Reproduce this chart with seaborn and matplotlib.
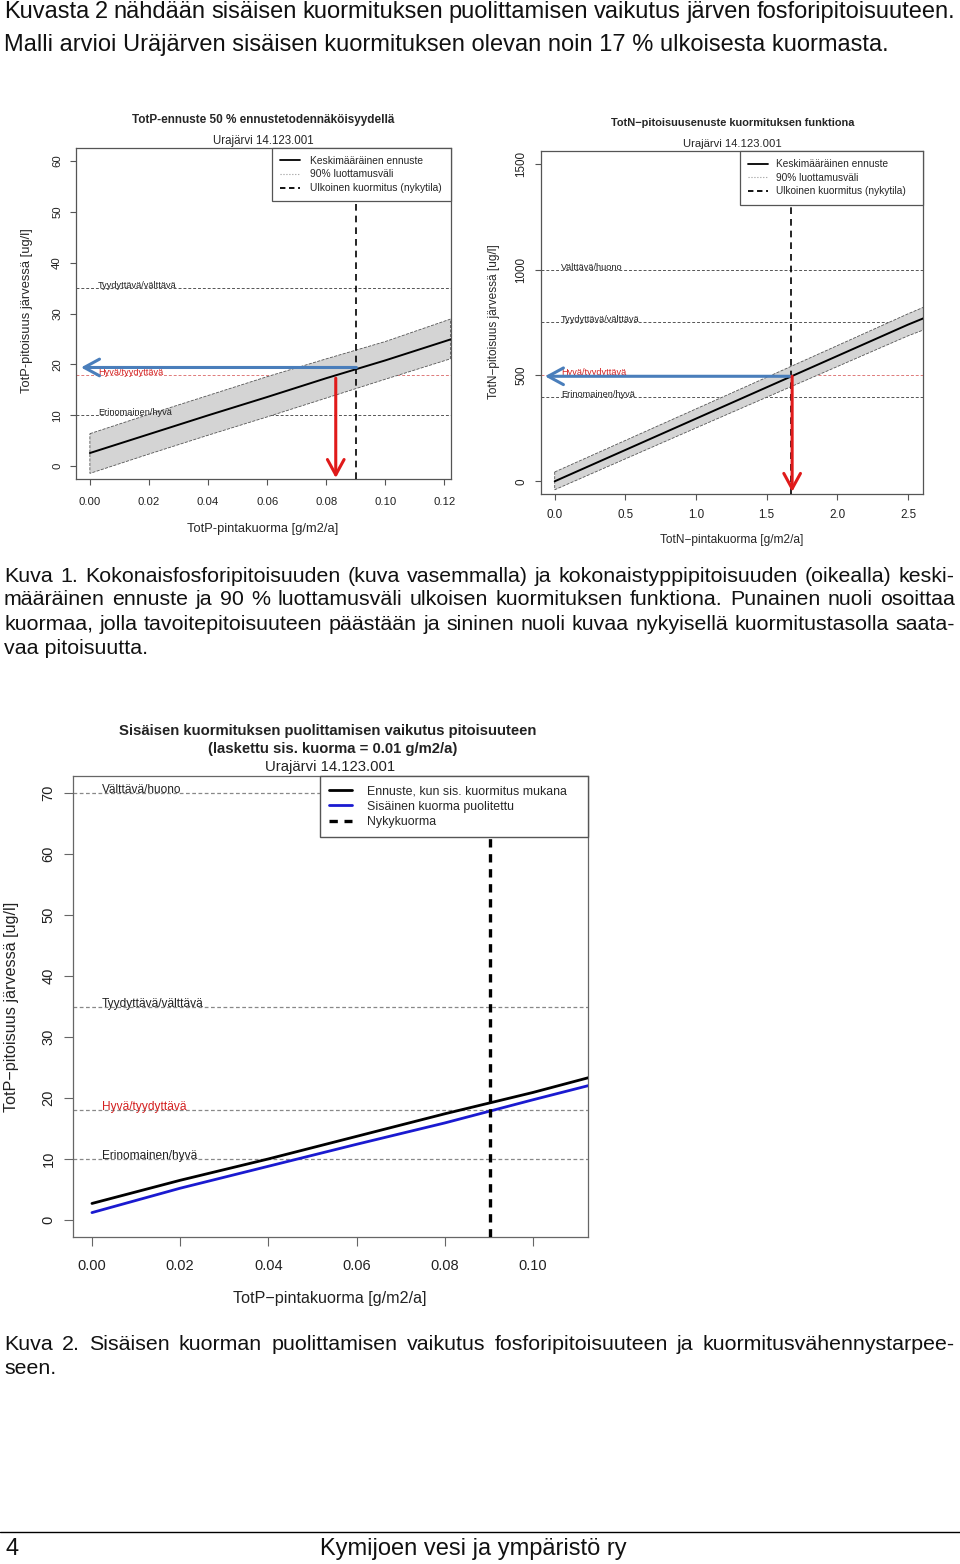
import numpy as np
import matplotlib
matplotlib.use("Agg")
import matplotlib.pyplot as plt
from matplotlib.lines import Line2D
import seaborn as sns

sns.set_theme(style="white")
plt.rcParams["font.family"] = ["Liberation Sans", "DejaVu Sans"]

# ---- values ----
# Kuva 1, left: TotP forecast
totp_load = [0.0, 0.02, 0.04, 0.06, 0.08, 0.10, 0.122]
totp_mean = [2.6, 6.3, 10.0, 13.6, 17.3, 20.8, 24.9]
totp_upper = [6.4, 10.2, 13.9, 17.6, 21.1, 24.5, 28.9]
totp_lower = [-1.4, 2.4, 6.1, 9.7, 13.4, 17.1, 21.1]
totp_now_load = 0.0902
totp_now_conc = 19.4
totp_target_load = 0.0832
totp_target_conc = 17.3

# Kuva 1, right: TotN forecast
totn_load = [0.0, 0.5, 1.0, 1.5, 2.0, 2.5, 2.61]
totn_mean = [0, 148, 296, 444, 592, 740, 770]
totn_upper = [44, 193, 342, 491, 641, 791, 822]
totn_lower = [-40, 106, 252, 397, 542, 687, 715]
totn_now_load = 1.671
totn_now_conc = 496
totn_target_load = 1.68
totn_target_conc = 496

# Kuva 2: internal load halved
half_load = [0.0, 0.02, 0.04, 0.06, 0.08, 0.10, 0.113]
half_with_internal = [2.7, 6.5, 10.0, 13.7, 17.4, 20.9, 23.4]
half_halved = [1.2, 5.2, 8.8, 12.4, 15.9, 19.7, 22.1]
half_now_load = 0.0903

totp_classes = ["Erinomainen/hyvä", "Hyvä/tyydyttävä", "Tyydyttävä/välttävä"]
totp_limits = [10, 18, 35]
totn_classes = ["Erinomainen/hyvä", "Hyvä/tyydyttävä", "Tyydyttävä/välttävä", "Välttävä/huono"]
totn_limits = [400, 500, 750, 1000]
half_classes = ["Erinomainen/hyvä", "Hyvä/tyydyttävä", "Tyydyttävä/välttävä", "Välttävä/huono"]
half_limits = [10, 18, 35, 70]

intro = ["Kuvasta 2 nähdään sisäisen kuormituksen puolittamisen vaikutus järven fosforipitoisuuteen.",
         "Malli arvioi Uräjärven sisäisen kuormituksen olevan noin 17 % ulkoisesta kuormasta."]
caption1 = ["Kuva 1. Kokonaisfosforipitoisuuden (kuva vasemmalla) ja kokonaistyppipitoisuuden (oikealla) keski-",
            "määräinen ennuste ja 90 % luottamusväli ulkoisen kuormituksen funktiona. Punainen nuoli osoittaa",
            "kuormaa, jolla tavoitepitoisuuteen päästään ja sininen nuoli kuvaa nykyisellä kuormitustasolla saata-",
            "vaa pitoisuutta."]
caption2 = ["Kuva 2. Sisäisen kuorman puolittamisen vaikutus fosforipitoisuuteen ja kuormitusvähennystarpee-",
            "seen."]

W, H = 960, 1564
fig = plt.figure(figsize=(W / 100, H / 100), dpi=100)
fig.patch.set_facecolor("white")
renderer = fig.canvas.get_renderer()


def fx(x):
    return x / W


def fy(y):
    return 1 - y / H


def box(x0, y0, x1, y1):
    return fig.add_axes([fx(x0), fy(y1), (x1 - x0) / W, (y1 - y0) / H])


def put_line(text, y, size, justify=False, x0=4, x1=955):
    if not justify:
        fig.text(fx(x0), fy(y), text, fontsize=size, va="center", ha="left", color="#111")
        return
    words = text.split(" ")
    widths = []
    for w in words:
        t = fig.text(0, 0, w, fontsize=size)
        widths.append(t.get_window_extent(renderer).width)
        t.remove()
    gap = (x1 - x0 - sum(widths)) / (len(words) - 1)
    x = x0
    for w, wd in zip(words, widths):
        fig.text(fx(x), fy(y), w, fontsize=size, va="center", ha="left", color="#111")
        x += wd + gap


def r_style(ax, size, tick_len, pad, xpad, spine="#555"):
    for s in ax.spines.values():
        s.set_color(spine)
        s.set_linewidth(0.9)
    ax.tick_params(axis="both", direction="out", length=tick_len, width=0.8, color=spine,
                   labelsize=size, pad=pad, labelcolor="#222", bottom=True, left=True)
    ax.tick_params(axis="x", pad=xpad)
    ax.tick_params(axis="y", labelrotation=90)
    for lab in ax.get_yticklabels():
        lab.set_va("center")
    ax.grid(False)
    ax.set_xlabel("")
    ax.set_ylabel("")


def levels(ax, limits, names, x_text, size, line_col, red_col, lw, dash):
    for v, name in zip(limits, names):
        red = name == "Hyvä/tyydyttävä"
        ax.axhline(v, color=red_col if red else line_col, lw=lw, dashes=dash, zorder=1)
        ax.text(x_text, v, name, fontsize=size, va="baseline", ha="left",
                color="#d42020" if red else "#222", zorder=5)


def arrow(ax, tail, tip, color, lw, scale):
    ax.annotate("", xy=tip, xytext=tail,
                arrowprops=dict(arrowstyle="->,head_length=0.55,head_width=0.3", color=color,
                                lw=lw, shrinkA=0, shrinkB=0, mutation_scale=scale), zorder=6)


band_legend = [Line2D([], [], color="black", lw=1.3),
               Line2D([], [], color="#999", lw=0.8, ls=":"),
               Line2D([], [], color="black", lw=1.3, dashes=(3, 2))]
band_labels = ["Keskimääräinen ennuste", "90% luottamusväli", "Ulkoinen kuormitus (nykytila)"]

# ---------------- page text ----------------
put_line(intro[0], 12, 17.0, justify=True)
put_line(intro[1], 45, 17.0)
for i, line in enumerate(caption1):
    put_line(line, 576 + 24 * i, 15.4, justify=i < 3)
for i, line in enumerate(caption2):
    put_line(line, 1344 + 24 * i, 15.4, justify=i < 1)

fig.add_artist(Line2D([0, 1], [fy(1532), fy(1532)], color="black", lw=1.0))
fig.text(fx(5), fy(1549), "4", fontsize=17, va="center", ha="left", color="#111")
fig.text(fx(473), fy(1549), "Kymijoen vesi ja ympäristö ry", fontsize=17, va="center",
         ha="center", color="#111")

# ---------------- Kuva 1 left: TotP ----------------
ax1 = box(76, 148, 451, 479)
ax1.fill(np.r_[totp_load, totp_load[::-1]], np.r_[totp_upper, totp_lower[::-1]],
         facecolor="#d4d4d4", edgecolor="#555", lw=0.6, ls="--", zorder=2)
levels(ax1, totp_limits, totp_classes, 0.0027, 6.6, "#555", "#e07a7a", 0.7, (3, 2))
sns.lineplot(x=totp_load, y=totp_mean, ax=ax1, color="black", lw=1.4, zorder=3)
ax1.axvline(totp_now_load, color="black", lw=1.2, dashes=(4, 3), zorder=4)
arrow(ax1, (totp_now_load, totp_now_conc), (-0.003, totp_now_conc), "#4a7ebb", 2.2, 20)
arrow(ax1, (totp_target_load, totp_target_conc), (totp_target_load, -2.3), "#e01a1a", 2.2, 20)
ax1.set_xlim(-0.0047, 0.1222)
ax1.set_ylim(-2.5, 62.5)
ax1.set_xticks([0, 0.02, 0.04, 0.06, 0.08, 0.10, 0.12])
ax1.set_xticklabels(["0.00", "0.02", "0.04", "0.06", "0.08", "0.10", "0.12"])
ax1.set_yticks([0, 10, 20, 30, 40, 50, 60])
r_style(ax1, 8.2, 4, 6, 9)
leg = ax1.legend(band_legend, band_labels, loc="upper left", bbox_to_anchor=(0.523, 0, 0.477, 1),
                 mode="expand", borderaxespad=0, fancybox=False, framealpha=1, edgecolor="#555",
                 fontsize=7.4, handlelength=2.0, handletextpad=0.9, borderpad=0.75, labelspacing=0.36)
leg.get_frame().set_linewidth(0.9)
fig.text(fx(263), fy(120), "TotP-ennuste 50 % ennustetodennäköisyydellä", fontsize=8.5,
         fontweight="bold", ha="center", va="center")
fig.text(fx(263), fy(141), "Urajärvi 14.123.001", fontsize=8.3, ha="center", va="center")
fig.text(fx(263), fy(529), "TotP-pintakuorma [g/m2/a]", fontsize=9.3, ha="center", va="center")
fig.text(fx(27), fy(311), "TotP-pitoisuus järvessä [ug/l]", fontsize=9.3, ha="center",
         va="center", rotation=90)

# ---------------- Kuva 1 right: TotN ----------------
ax2 = box(541, 151, 923, 494)
ax2.fill(np.r_[totn_load, totn_load[::-1]], np.r_[totn_upper, totn_lower[::-1]],
         facecolor="#d4d4d4", edgecolor="#555", lw=0.6, ls="--", zorder=2)
levels(ax2, totn_limits, totn_classes, 0.045, 6.6, "#555", "#e07a7a", 0.7, (3, 2))
sns.lineplot(x=totn_load, y=totn_mean, ax=ax2, color="black", lw=1.4, zorder=3)
ax2.axvline(totn_now_load, color="black", lw=1.2, dashes=(4, 3), zorder=4)
arrow(ax2, (totn_now_load, totn_now_conc), (-0.069, totn_now_conc), "#4a7ebb", 2.2, 20)
arrow(ax2, (totn_target_load, totn_target_conc), (totn_target_load, -50), "#e01a1a", 2.2, 20)
ax2.set_xlim(-0.097, 2.606)
ax2.set_ylim(-60, 1560)
ax2.set_xticks([0, 0.5, 1.0, 1.5, 2.0, 2.5])
ax2.set_xticklabels(["0.0", "0.5", "1.0", "1.5", "2.0", "2.5"])
ax2.set_yticks([0, 500, 1000, 1500])
r_style(ax2, 8.4, 4, 6, 6.5)
leg = ax2.legend(band_legend, band_labels, loc="upper left", bbox_to_anchor=(0.52, 0, 0.48, 1),
                 mode="expand", borderaxespad=0, fancybox=False, framealpha=1, edgecolor="#555",
                 fontsize=7.3, handlelength=2.0, handletextpad=0.8, borderpad=0.8, labelspacing=0.36)
leg.get_frame().set_linewidth(0.9)
fig.text(fx(733), fy(123), "TotN−pitoisuusenuste kuormituksen funktiona", fontsize=7.9,
         fontweight="bold", ha="center", va="center")
fig.text(fx(732), fy(144), "Urajärvi 14.123.001", fontsize=8.1, ha="center", va="center")
fig.text(fx(732), fy(540), "TotN−pintakuorma [g/m2/a]", fontsize=8.6, ha="center", va="center")
fig.text(fx(494), fy(322), "TotN−pitoisuus järvessä [ug/l]", fontsize=8.6, ha="center",
         va="center", rotation=90)

# ---------------- Kuva 2 ----------------
ax3 = box(73, 776, 588, 1237)
levels(ax3, half_limits, half_classes, 0.0022, 8.6, "#888", "#888", 0.9, (3, 2))
sns.lineplot(x=half_load, y=half_with_internal, ax=ax3, color="black", lw=2.0, zorder=3,
             label="Ennuste, kun sis. kuormitus mukana")
sns.lineplot(x=half_load, y=half_halved, ax=ax3, color="#1a1ad0", lw=2.0, zorder=3,
             label="Sisäinen kuorma puolitettu")
ax3.axvline(half_now_load, color="black", lw=2.4, dashes=(2.5, 2), zorder=4, label="Nykykuorma")
ax3.set_xlim(-0.0043, 0.1125)
ax3.set_ylim(-2.8, 72.8)
ax3.set_xticks([0, 0.02, 0.04, 0.06, 0.08, 0.10])
ax3.set_xticklabels(["0.00", "0.02", "0.04", "0.06", "0.08", "0.10"])
ax3.set_yticks([0, 10, 20, 30, 40, 50, 60, 70])
r_style(ax3, 10.5, 6.5, 6, 9, spine="#666")
leg = ax3.legend(loc="upper left", bbox_to_anchor=(0.48, 0, 0.52, 1), mode="expand",
                 borderaxespad=0, fancybox=False, framealpha=1, edgecolor="#555", fontsize=8.9,
                 handlelength=1.8, handletextpad=1.2, borderpad=0.75, labelspacing=0.28)
leg.get_frame().set_linewidth(1.0)
fig.text(fx(328), fy(731), "Sisäisen kuormituksen puolittamisen vaikutus pitoisuuteen",
         fontsize=10.7, fontweight="bold", ha="center", va="center", color="#222")
fig.text(fx(333), fy(749), "(laskettu sis. kuorma = 0.01 g/m2/a)", fontsize=10.7,
         fontweight="bold", ha="center", va="center", color="#222")
fig.text(fx(330), fy(767), "Urajärvi 14.123.001", fontsize=10.7, ha="center", va="center",
         color="#222")
fig.text(fx(330), fy(1299), "TotP−pintakuorma [g/m2/a]", fontsize=11.6, ha="center",
         va="center", color="#222")
fig.text(fx(12), fy(1007), "TotP−pitoisuus järvessä [ug/l]", fontsize=11.6, ha="center",
         va="center", rotation=90, color="#222")

fig.savefig("out.png", dpi=100, facecolor="white")
